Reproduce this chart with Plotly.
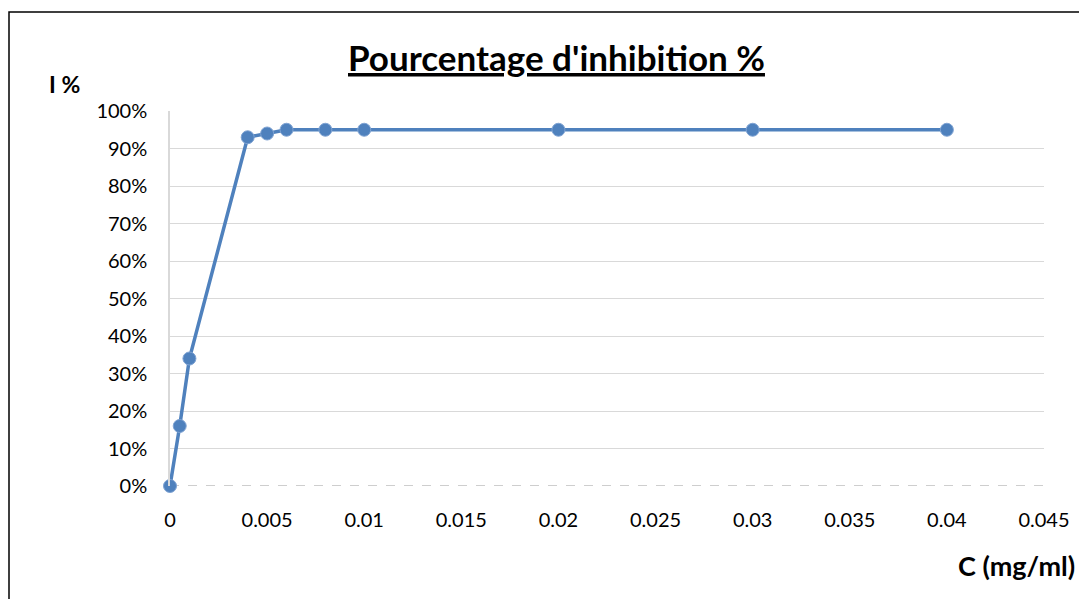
import plotly.graph_objects as go

conc = [0, 0.0005, 0.001, 0.004, 0.005, 0.006, 0.008, 0.01, 0.02, 0.03, 0.04]
inhib = [0, 16, 34, 93, 94, 95, 95, 95, 95, 95, 95]

x_ticks = [0, 0.005, 0.01, 0.015, 0.02, 0.025, 0.03, 0.035, 0.04, 0.045]
x_labels = ["0", "0.005", "0.01", "0.015", "0.02", "0.025", "0.03", "0.035", "0.04", "0.045"]
y_ticks = [0, 10, 20, 30, 40, 50, 60, 70, 80, 90, 100]
y_labels = [f"{v}%" for v in y_ticks]

FONT = "Lato, 'Open Sans', sans-serif"
OFF = 8  # page body margin
W, H = 1087 - OFF, 599 - OFF
L, T = 170 - OFF, 111 - OFF
R = W - (1044 - OFF)
B = H - (486 - OFF)
pw, ph = W - L - R, H - T - B


def px(xabs):
    return (xabs - OFF - L) / pw


def py(yabs):
    return 1 - (yabs - OFF - T) / ph


fig = go.Figure()
fig.add_trace(go.Scatter(
    x=conc, y=inhib, mode="lines+markers",
    line=dict(color="#4F81BD", width=3.5),
    marker=dict(color="#4F81BD", size=13, line=dict(color="#7FA3D3", width=1)),
    cliponaxis=False,
    showlegend=False,
))

fig.update_layout(
    width=W, height=H,
    margin=dict(l=L, r=R, t=T, b=B),
    paper_bgcolor="white", plot_bgcolor="white",
    font=dict(family=FONT, size=20, color="#000000"),
    xaxis=dict(range=[0, 0.045], tickvals=x_ticks, ticktext=x_labels,
               showgrid=False, zeroline=False, showline=False,
               ticks="", ticklabelstandoff=20, tickfont=dict(size=20)),
    yaxis=dict(range=[0, 100], tickvals=y_ticks, ticktext=y_labels,
               showgrid=True, gridcolor="#d9d9d9", gridwidth=1,
               zeroline=False, showline=True, linecolor="#d9d9d9", linewidth=1.5,
               ticks="", ticklabelstandoff=17, tickfont=dict(size=20)),
    shapes=[
        dict(type="line", xref="paper", yref="y", x0=0, x1=1, y0=0, y1=0,
             line=dict(color="#bfbfbf", width=1.5, dash="dash"), layer="below"),
        dict(type="rect", xref="paper", yref="paper",
             x0=px(9), x1=px(1110), y0=py(620), y1=py(12),
             line=dict(color="black", width=1.5), fillcolor="rgba(0,0,0,0)"),
    ],
    annotations=[
        dict(text="<b><u>Pourcentage d'inhibition %</u></b>", xref="paper", yref="paper",
             x=px(556), y=py(57), xanchor="center", yanchor="middle",
             showarrow=False, font=dict(size=35, family=FONT)),
        dict(text="<b>I %</b>", xref="paper", yref="paper",
             x=px(47), y=py(84), xanchor="left", yanchor="middle",
             showarrow=False, font=dict(size=23, family=FONT)),
        dict(text="<b>C (mg/ml)</b>", xref="paper", yref="paper",
             x=px(1077), y=py(565), xanchor="right", yanchor="middle",
             showarrow=False, font=dict(size=27, family=FONT)),
    ],
)

fig.write_html("out.html")
